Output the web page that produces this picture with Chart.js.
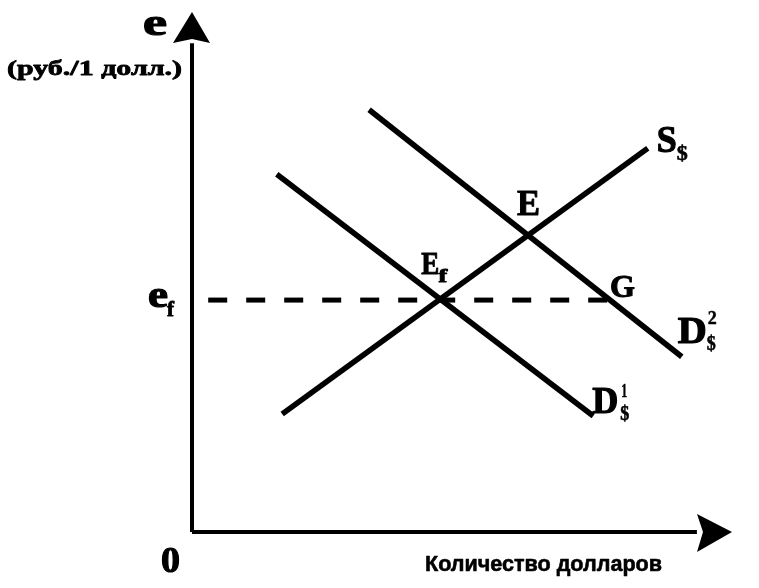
<!DOCTYPE html>
<html>
<head>
<meta charset="utf-8">
<script src="https://cdn.jsdelivr.net/npm/chart.js@4/dist/chart.umd.min.js"></script>
<style>
html,body{margin:0;padding:0;background:#fff;}
#wrap{width:759px;height:588px;}
</style>
</head>
<body>
<div id="wrap"><canvas id="c" width="759" height="588"></canvas></div>
<script>
// ---- data (abstract units: quantity 0..10, exchange rate 0..10) ----
const curveNames = ['S', 'D', 'D'];
const curveSubs = ['$', '$', '$'];
const curveSups = ['', '1', '2'];
const supplyX = [1.67, 8.44];
const supplyY = [2.27, 7.38];
const demand1X = [1.57, 7.43];
const demand1Y = [6.88, 2.23];
const demand2X = [3.28, 9.07];
const demand2Y = [8.12, 3.37];
const rateEf = 4.46;            // e_f level
const dashedX = [0.3, 7.74];    // from axis to point G
const axisX = [0, 9.35];        // x-axis line (arrow tip at 10)
const axisY = [0, 9.4];         // y-axis line (arrow tip at 10)
const pointNames = ['E', 'E', 'G'];
const yAxisTitle = 'e';
const yAxisUnit = '(руб./1 долл.)';
const xAxisTitle = 'Количество долларов';
const originLabel = '0';
const efLabel = 'e';

const pts = (xs, ys) => xs.map((x, i) => ({x: x, y: ys[i]}));

function intersect(ax, ay, bx, by) {
  const m1 = (ay[1] - ay[0]) / (ax[1] - ax[0]);
  const m2 = (by[1] - by[0]) / (bx[1] - bx[0]);
  const x = (by[0] - ay[0] + m1 * ax[0] - m2 * bx[0]) / (m1 - m2);
  return {x: x, y: ay[0] + m1 * (x - ax[0])};
}
function atY(ax, ay, y) {
  const m = (ay[1] - ay[0]) / (ax[1] - ax[0]);
  return {x: ax[0] + (y - ay[0]) / m, y: y};
}

function fitText(ctx, s, x, y, font, width, stroke) {
  ctx.save();
  ctx.font = font;
  const w = ctx.measureText(s).width;
  const k = width ? width / w : 1;
  ctx.translate(x, y);
  ctx.scale(k, 1);
  ctx.textBaseline = 'alphabetic';
  ctx.textAlign = 'left';
  ctx.fillText(s, 0, 0);
  if (stroke) {
    ctx.lineWidth = stroke;
    ctx.lineJoin = 'round';
    ctx.strokeStyle = '#000';
    ctx.strokeText(s, 0, 0);
  }
  ctx.restore();
}
const SERIF = '"Liberation Serif", "DejaVu Serif", serif';
const serifB = (px) => 'bold ' + px + 'px ' + SERIF;

const labelsPlugin = {
  id: 'labels',
  afterDraw(chart) {
    const ctx = chart.ctx;
    const xs = chart.scales.x, ys = chart.scales.y;
    const px = v => xs.getPixelForValue(v);
    const py = v => ys.getPixelForValue(v);
    ctx.save();
    ctx.fillStyle = '#000';

    // arrowheads
    const ox = px(0), oy = py(0);
    const topY = py(10), rightX = px(10);
    ctx.beginPath();
    ctx.moveTo(ox, topY);
    ctx.lineTo(ox + 18, topY + 31);
    ctx.lineTo(ox, topY + 27);
    ctx.lineTo(ox - 19, topY + 31);
    ctx.closePath();
    ctx.fill();
    ctx.beginPath();
    ctx.moveTo(rightX, oy);
    ctx.lineTo(rightX - 35, oy - 18);
    ctx.lineTo(rightX - 29, oy);
    ctx.lineTo(rightX - 35, oy + 20);
    ctx.closePath();
    ctx.fill();

    // axis texts
    fitText(ctx, yAxisTitle, ox - 49, topY + 23, serifB(38), 24, 1.2);
    fitText(ctx, yAxisUnit, ox - 185, topY + 63, serifB(22), 175, 0.8);
    fitText(ctx, originLabel, ox - 31, oy + 40, serifB(35), 19, 1);
    fitText(ctx, xAxisTitle, ox + 233, oy + 39, 'bold 22px "Liberation Sans", Arial, sans-serif', 237, 0.6);

    // e_f on y axis
    const efY = py(rateEf);
    fitText(ctx, efLabel, ox - 44, efY + 7, serifB(38), 20, 1.2);
    fitText(ctx, 'f', ox - 25, efY + 16, serifB(20), 7, 0.8);

    // intersection labels
    const E1 = intersect(supplyX, supplyY, demand1X, demand1Y);
    const E = intersect(supplyX, supplyY, demand2X, demand2Y);
    const G = atY(demand2X, demand2Y, rateEf);
    fitText(ctx, pointNames[0], px(E1.x) - 19, py(E1.y) - 25, serifB(31), 18, 1);
    fitText(ctx, 'f', px(E1.x) - 2, py(E1.y) - 17, serifB(18), 9, 0.8);
    fitText(ctx, pointNames[1], px(E.x) - 11, py(E.y) - 20, serifB(35), 23, 1);
    fitText(ctx, pointNames[2], px(G.x) + 0, py(G.y) - 3, serifB(31), 25, 1);

    // curve labels
    // S$
    let x0 = px(supplyX[1]), y0 = py(supplyY[1]);
    fitText(ctx, curveNames[0], x0 + 9, y0 + 4, serifB(37), 20, 1.2);
    fitText(ctx, curveSubs[0], x0 + 29, y0 + 12, serifB(20), 11, 0.6);
    // D$1
    x0 = px(demand1X[1]); y0 = py(demand1Y[1]);
    fitText(ctx, curveNames[1], x0 - 1, y0 - 3, serifB(37), 26, 1.2);
    fitText(ctx, curveSubs[1], x0 + 27, y0 + 4, serifB(20), 9, 0.6);
    fitText(ctx, curveSups[1], x0 + 28, y0 - 19, serifB(19), 6, 0.5);
    // D$2
    x0 = px(demand2X[1]); y0 = py(demand2Y[1]);
    fitText(ctx, curveNames[2], x0 - 4, y0 - 14, serifB(37), 29, 1.2);
    fitText(ctx, curveSubs[2], x0 + 25, y0 - 7, serifB(20), 9, 0.6);
    fitText(ctx, curveSups[2], x0 + 26, y0 - 33, serifB(19), 9, 0.5);

    ctx.restore();
  }
};

const lineDs = (data, width, dash) => ({
  data: data,
  showLine: true,
  borderColor: '#000',
  backgroundColor: '#000',
  borderWidth: width,
  borderDash: dash || [],
  pointRadius: 0,
  pointHoverRadius: 0,
  fill: false,
  clip: false,
  tension: 0
});

new Chart(document.getElementById('c'), {
  type: 'scatter',
  data: {
    datasets: [
      lineDs(pts([0, 0], axisY), 4),
      lineDs(pts(axisX, [0, 0]), 4),
      lineDs(pts(dashedX, [rateEf, rateEf]), 5, [19, 19]),
      lineDs(pts(supplyX, supplyY), 5.5),
      lineDs(pts(demand1X, demand1Y), 5.5),
      lineDs(pts(demand2X, demand2Y), 5.5)
    ]
  },
  options: {
    responsive: false,
    devicePixelRatio: 1,
    animation: false,
    layout: {padding: {left: 192, right: 27, top: 12, bottom: 56}},
    scales: {
      x: {type: 'linear', min: 0, max: 10, display: false},
      y: {type: 'linear', min: 0, max: 10, display: false}
    },
    plugins: {legend: {display: false}, tooltip: {enabled: false}}
  },
  plugins: [labelsPlugin]
});
</script>
</body>
</html>
